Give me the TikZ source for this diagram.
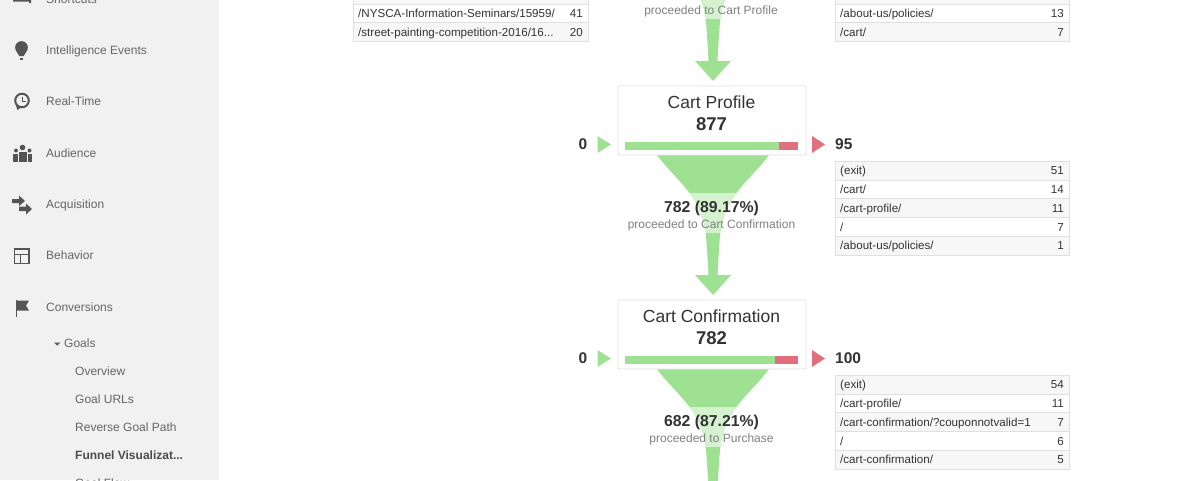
\documentclass[tikz,border=0pt]{standalone}
\usepackage{fontspec}
\setmainfont{Liberation Sans}
\usetikzlibrary{calc}
\definecolor{sidebg}{HTML}{F1F1F1}
\definecolor{sidetxt}{HTML}{666666}
\definecolor{icn}{HTML}{555555}
\definecolor{fgreen}{HTML}{9FE193}
\definecolor{lgreen}{HTML}{D3F2CD}
\definecolor{fred}{HTML}{E26F7E}
\definecolor{dark}{HTML}{333333}
\definecolor{mid}{HTML}{808080}
\definecolor{rowa}{HTML}{F7F7F7}
\definecolor{tline}{HTML}{E0E0E0}
\newcommand{\fs}[1]{\fontsize{#1}{#1}\selectfont}
\tikzset{
  x=1pt,y=-1pt,
  sidelabel/.style={anchor=base west,inner sep=0pt,text=sidetxt,font=\fs{12}},
  sub/.style={anchor=base west,inner sep=0pt,text=sidetxt,font=\fs{12}},
  cell/.style={anchor=base west,inner sep=0pt,text=dark,font=\fs{11.6}},
  cellr/.style={anchor=base east,inner sep=0pt,text=dark,font=\fs{11.6}},
  stepbox/.style={draw=tline,fill=white,line width=.8pt,rounded corners=1pt},
  ttl/.style={anchor=base,inner sep=0pt,text=dark,font=\fs{17.5}},
  val/.style={anchor=base,inner sep=0pt,text=dark,font=\fs{18.5}\bfseries},
  pct/.style={anchor=base,inner sep=0pt,text=dark,font=\fs{15.8}\bfseries},
  proc/.style={anchor=base,inner sep=0pt,text=mid,font=\fs{12}},
  sideval/.style={anchor=base,inner sep=0pt,text=dark,font=\fs{15.5}\bfseries},
}
% #1 top y of the funnel
\newcommand{\fleft}[1]{(657,#1) .. controls (675,#1+25) and (702,#1+40) .. (706,#1+80) .. controls (707,#1+95) and (708,#1+107) .. (708.5,#1+120)}
\newcommand{\fright}[1]{(717.5,#1+120) .. controls (718,#1+107) and (719,#1+95) .. (720,#1+80) .. controls (724,#1+40) and (751,#1+25) .. (769,#1)}
\newcommand{\funnel}[1]{%
  \fill[fgreen] \fleft{#1} -- (695,#1+120) -- (713,#1+140) -- (731,#1+120) -- \fright{#1} -- cycle;
  \begin{scope}
    \clip (600,#1+38) rectangle (830,#1+77.5);
    \fill[lgreen] \fleft{#1} -- \fright{#1} -- cycle;
  \end{scope}}
% #1 name, #2 x left, #3 x right, #4 row top, #5 text, #6 fill, #7 number
\newcommand{\trow}[7]{%
  \fill[#6] (#2,#4) rectangle (#3,#4+18.7);
  \draw[tline,line width=.9pt] (#2,#4) -- (#3,#4) (#2,#4+18.7) -- (#3,#4+18.7);
  \node[cell] (#1a) at (#2+5,#4+13.4) {#5};
  \node[cellr] (#1b) at (#3-5,#4+13.4) {#7};}
\begin{document}
\begin{tikzpicture}
\useasboundingbox (0,0) rectangle (1200,480);
\clip (0,0) rectangle (1200,480);
\fill[white] (0,0) rectangle (1200,480);
\fill[sidebg] (0,0) rectangle (219,480);
% sidebar labels
\node[sidelabel] (s0) at (46,3) {Shortcuts};
\node[sidelabel] (s1) at (46,54) {Intelligence Events};
\node[sidelabel] (s2) at (46,105.5) {Real-Time};
\node[sidelabel] (s3) at (46,157) {Audience};
\node[sidelabel] (s4) at (46,208) {Acquisition};
\node[sidelabel] (s5) at (46,259.5) {Behavior};
\node[sidelabel] (s6) at (46,311) {Conversions};
\node[sub] (s7) at (64,347) {Goals};
\node[sub] (s8) at (75,375) {Overview};
\node[sub] (s9) at (75,403) {Goal URLs};
\node[sub] (s10) at (75,431) {Reverse Goal Path};
\node[sub,font=\fs{12}\bfseries,text=icn!90!black] (s11) at (75,459) {Funnel Visualizat...};
\node[sub] (s12) at (75,487) {Goal Flow};
% sidebar icons
\fill[icn] (13,-3) -- (20,-3) -- (20,0) -- (31,0) -- (31,3) -- (29,3) -- (29,1.5) -- (13,1.5) -- cycle;
\fill[icn] (21.5,47.5) circle (6.4);
\fill[icn] (15.8,50) -- (27.2,50) -- (23.8,56) -- (19.2,56) -- cycle;
\fill[icn] (20,57.7) rectangle (23,59.5);
\draw[icn,line width=2pt,fill=sidebg] (22,100.5) circle (6.8);
\fill[icn] (15.5,104) -- (17.5,110) -- (21,107.5) -- cycle;
\draw[icn,line width=1pt] (22,96.5) -- (22,101) -- (26,101);
\fill[icn] (22.5,147.5) circle (2.8);
\fill[icn] (16,150.5) circle (2);
\fill[icn] (29.5,150.5) circle (2);
\fill[icn] (13,154) rectangle (18,161.5);
\fill[icn] (18.5,151.5) rectangle (27,161.5);
\fill[icn] (27.5,154) rectangle (32,161.5);
\fill[icn] (12,199) -- (19,199) -- (19,195.5) -- (25,201) -- (19,206) -- (19,203) -- (12,203) -- cycle;
\fill[icn] (19,206.5) -- (26,206.5) -- (26,203.5) -- (32,209) -- (26,214.5) -- (26,211) -- (19,211) -- cycle;
\draw[icn,line width=1.3pt] (14.5,249) rectangle (29,263.5);
\draw[icn,line width=1pt] (14.5,254) -- (29,254) (20,254) -- (20,263.5);
\draw[icn,line width=.9pt] (16.3,300) -- (16.3,317);
\fill[icn] (16.3,300.5) -- (29,300.5) -- (26,305.5) -- (29,310.5) -- (16.3,310.5) -- cycle;
\fill[icn] (54,342.5) -- (60.5,342.5) -- (57.25,345.5) -- cycle;
% funnels
\funnel{-59}
\funnel{155}
\funnel{369}
% funnel labels
\node[proc] (p0) at (711,14) {proceeded to Cart Profile};
\node[pct] (c1) at (711.5,212) {782 (89.17\%)};
\node[proc] (p1) at (711.5,228) {proceeded to Cart Confirmation};
\node[pct] (c2) at (711.5,426) {682 (87.21\%)};
\node[proc] (p2) at (711.5,442) {proceeded to Purchase};
% step boxes
\draw[stepbox] (618,86) rectangle (806,155);
\node[ttl] (t1) at (711.5,108) {Cart Profile};
\node[val] (v1) at (711.5,130.5) {877};
\fill[fgreen] (625,142) rectangle (779,150);
\fill[fred] (779,142) rectangle (798,150);
\draw[stepbox] (618,300) rectangle (806,369);
\node[ttl] (t2) at (711.5,322) {Cart Confirmation};
\node[val] (v2) at (711.5,344.5) {782};
\fill[fgreen] (625,356) rectangle (775,363.5);
\fill[fred] (775,356) rectangle (798,363.5);
% entrances and exits
\node[sideval] (i1) at (583,149.7) {0};
\node[sideval] (i2) at (583,363.7) {0};
\fill[fgreen] (597.5,136) -- (611,144.5) -- (597.5,153) -- cycle;
\fill[fgreen] (597.5,350) -- (611,358.5) -- (597.5,367) -- cycle;
\fill[fred] (812,136) -- (825,144.5) -- (812,153) -- cycle;
\fill[fred] (812,350) -- (825,358.5) -- (812,367) -- cycle;
\node[sideval,anchor=base west] (e1) at (835,149.7) {95};
\node[sideval,anchor=base west] (e2) at (835,363.7) {100};
% left table
\trow{la}{353}{588}{-14.7}{}{rowa}{}
\trow{lb}{353}{588}{4}{/NYSCA-Information-Seminars/15959/}{white}{41}
\trow{lc}{353}{588}{22.7}{/street-painting-competition-2016/16...}{rowa}{20}
\draw[tline,line width=.9pt] (353,-5) rectangle (588,41.4);
% right table top
\trow{ra}{835}{1069}{-14.7}{}{rowa}{}
\trow{rb}{835}{1069}{4}{/about-us/policies/}{white}{13}
\trow{rc}{835}{1069}{22.7}{/cart/}{rowa}{7}
\draw[tline,line width=.9pt] (835,-5) rectangle (1069,41.4);
% right table middle
\trow{ma}{835}{1069}{161.5}{(exit)}{rowa}{51}
\trow{mb}{835}{1069}{180.2}{/cart/}{white}{14}
\trow{mc}{835}{1069}{198.9}{/cart-profile/}{rowa}{11}
\trow{md}{835}{1069}{217.6}{/}{white}{7}
\trow{me}{835}{1069}{236.3}{/about-us/policies/}{rowa}{1}
\draw[tline,line width=.9pt] (835,161.5) rectangle (1069,255);
% right table bottom
\trow{na}{835}{1069}{375.5}{(exit)}{rowa}{54}
\trow{nb}{835}{1069}{394.2}{/cart-profile/}{white}{11}
\trow{nc}{835}{1069}{412.9}{/cart-confirmation/?couponnotvalid=1}{rowa}{7}
\trow{nd}{835}{1069}{431.6}{/}{white}{6}
\trow{ne}{835}{1069}{450.3}{/cart-confirmation/}{rowa}{5}
\draw[tline,line width=.9pt] (835,375.5) rectangle (1069,469);
\end{tikzpicture}
\end{document}
